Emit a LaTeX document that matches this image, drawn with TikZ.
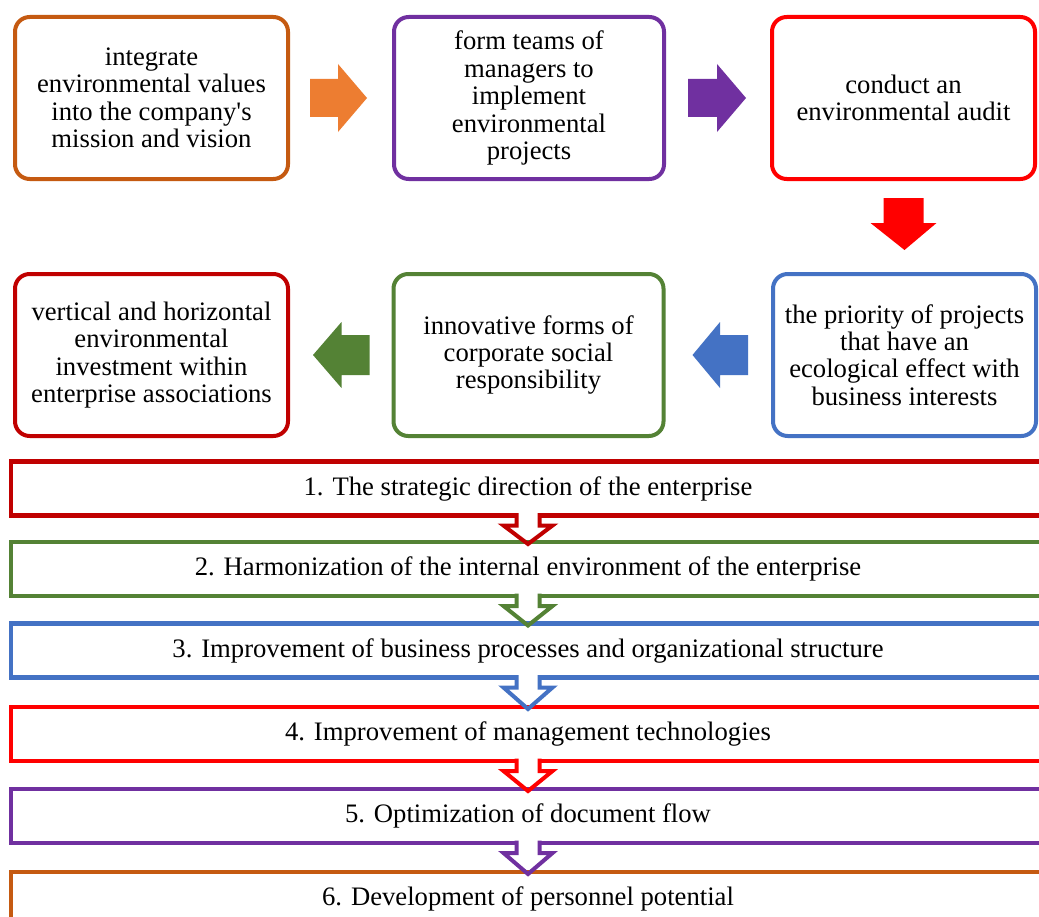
\documentclass[tikz,border=0pt]{standalone}
\usepackage{fontspec}
\setmainfont{Liberation Serif}[Ligatures=TeXOff]
\usetikzlibrary{calc}
\definecolor{cOrange}{HTML}{C55A11}
\definecolor{cOrangeA}{HTML}{ED7D31}
\definecolor{cPurple}{HTML}{7030A0}
\definecolor{cRed}{HTML}{FF0000}
\definecolor{cBlue}{HTML}{4472C4}
\definecolor{cGreen}{HTML}{548235}
\definecolor{cDark}{HTML}{C00000}
\begin{document}
\begin{tikzpicture}[x=0.75pt,y=-0.75pt,
  box/.style={draw, line width=3pt, rounded corners=11pt, align=center, inner sep=2pt, outer sep=0pt,
    font=\fontsize{20}{20.6}\selectfont, minimum height=121.5pt},
  bar/.style={draw, line width=3.5pt, outer sep=0pt, minimum width=775.5pt, minimum height=40.5pt,
    inner sep=0pt, font=\fontsize{20}{24}\selectfont},
  barlink/.style={line width=3pt, line join=miter}]
\fill[white] (0,0) rectangle (1039,917);
\useasboundingbox (0,0) rectangle (1039,917);

% top row
\node[box, draw=cOrange, minimum width=204.75pt] (b1) at (151.5,98) {integrate\\environmental values\\into the company's\\mission and vision};
\node[box, draw=cPurple, minimum width=202.5pt] (b2) at (529,98) {form teams of\\managers to\\implement\\environmental\\projects};
\node[box, draw=cRed, minimum width=197.25pt] (b3) at (903.5,98) {conduct an\\environmental audit};
% second row
\node[box, draw=cBlue, minimum width=197.25pt] (b4) at (904.5,355) {the priority of projects\\that have an\\ecological effect with\\business interests};
\node[box, draw=cGreen, minimum width=202.5pt] (b5) at (528.5,355) {innovative forms of\\corporate social\\responsibility};
\node[box, draw=cDark, minimum width=204.75pt] (b6) at (151.5,355) {vertical and horizontal\\environmental\\investment within\\enterprise associations};

% block arrows
\fill[cOrangeA] ($(b2.west)+(-84,-19)$) -- ++(28,0) -- ++(0,-15) -- ($(b2.west)+(-27,0)$) -- ($(b2.west)+(-56,34)$) -- ++(0,-15) -- ++(-28,0) -- cycle;
\fill[cPurple] ($(b2.east)+(24,-19)$) -- ++(29,0) -- ++(0,-15) -- ($(b3.west)+(-26,0)$) -- ($(b2.east)+(53,34)$) -- ++(0,-15) -- ++(-29,0) -- cycle;
\fill[cRed] ($(b3.south)+(-20,19)$) -- ++(0,25) -- ++(-13,0) -- ($(b4.north)+(0,-24)$) -- ($(b3.south)+(33,44)$) -- ++(-13,0) -- ++(0,-25) -- cycle;
\fill[cBlue] ($(b4.west)+(-25,-20)$) -- ++(-28,0) -- ++(0,-13) -- ($(b5.east)+(29,0)$) -- ($(b4.west)+(-53,33)$) -- ++(0,-13) -- ++(28,0) -- cycle;
\fill[cGreen] ($(b5.west)+(-24,-20)$) -- ++(-28,0) -- ++(0,-13) -- ($(b6.east)+(25,0)$) -- ($(b5.west)+(-52,33)$) -- ++(0,-13) -- ++(28,0) -- cycle;

% bars
\node[bar, draw=cDark]   (s1) at (528,488.5) {1. The strategic direction of the enterprise};
\node[bar, draw=cGreen]  (s2) at (528,569)   {2. Harmonization of the internal environment of the enterprise};
\node[bar, draw=cBlue]   (s3) at (528,650.5) {3. Improvement of business processes and organizational structure};
\node[bar, draw=cRed]    (s4) at (528,734)   {4. Improvement of management technologies};
\node[bar, draw=cPurple] (s5) at (528,816)   {5. Optimization of document flow};
\node[bar, draw=cOrange] (s6) at (528,899)   {6. Development of personnel potential};

% outlined arrows between bars
\foreach \a/\b/\c in {s1/s2/cDark, s2/s3/cGreen, s3/s4/cBlue, s4/s5/cRed, s5/s6/cPurple}{
  \fill[white] ($(\a.south)+(-11.5,-3)$) -- ++(0,13) -- ++(-13,0) -- ($(\b.north)+(0,-4)$)
     -- ($(\a.south)+(24.5,10)$) -- ++(-13,0) -- ++(0,-13) -- cycle;
  \draw[barlink, draw=\c] ($(\a.south)+(-11.5,-2.3)$) -- ++(0,12.3) -- ++(-13,0) -- ($(\b.north)+(0,2)$)
     -- ($(\a.south)+(24.5,10)$) -- ++(-13,0) -- ++(0,-12.3);
}
\end{tikzpicture}
\end{document}
